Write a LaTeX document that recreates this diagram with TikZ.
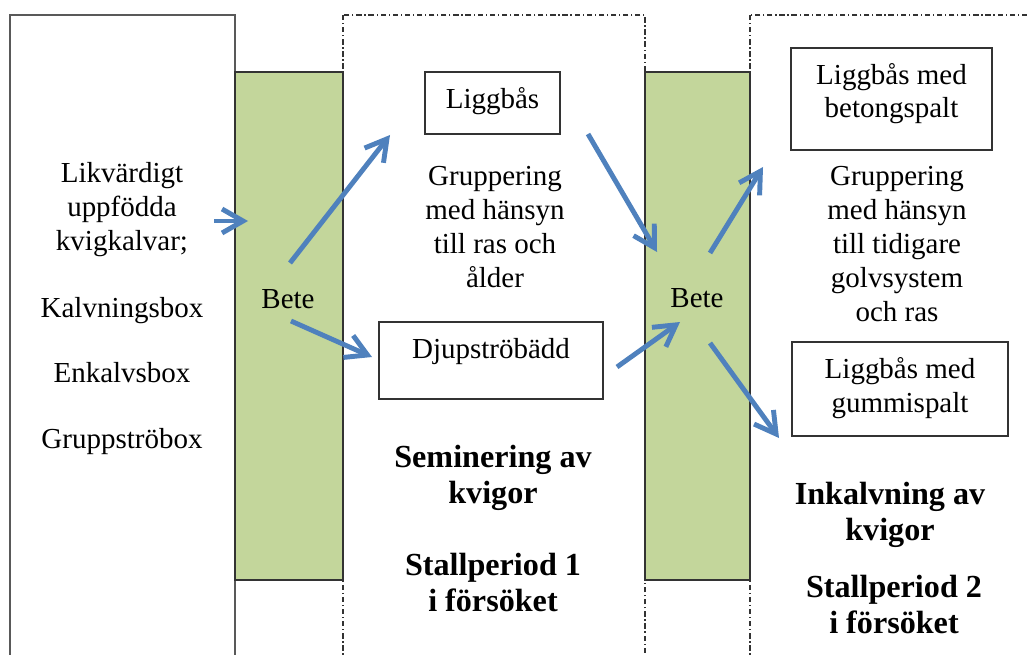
\documentclass[tikz,border=0pt]{standalone}
\usepackage{fontspec}
\setmainfont{Liberation Serif}
\usetikzlibrary{arrows.meta}

\definecolor{betegreen}{HTML}{C3D69B}
\definecolor{flowblue}{HTML}{4F81BD}

\newcommand{\txtregular}{\fontsize{16.5}{19.3}\selectfont}
\newcommand{\txtbold}{\fontsize{18.3}{20}\selectfont\bfseries}

\begin{document}
\begin{tikzpicture}[
    x=0.02cm, y=-0.02cm,
    % Styles for the periods, the pasture bars and the arrows
    framebox/.style={draw=black!65, line width=0.6pt},
    stallbox/.style={draw=black!80, line width=0.6pt,
        dash pattern=on 3pt off 1.6pt on 0.7pt off 1.6pt},
    betebar/.style={fill=betegreen, draw=black!80, line width=0.7pt},
    floorbox/.style={draw=black!80, line width=0.8pt, inner sep=0pt,
        anchor=base, align=center, font=\txtregular},
    plaintext/.style={align=center, anchor=base, inner sep=0pt, font=\txtregular},
    titletext/.style={align=center, anchor=base, inner sep=0pt, font=\txtbold},
    flow/.style={draw=flowblue, line width=2.8pt,
        -{Straight Barb[length=0.42cm, width=0.48cm]}}
]

    \useasboundingbox (0,0) rectangle (1027,655);
    \clip (0,0) rectangle (1027,655);

    % Periods

    %% Rearing, first and second housing period
    \draw[framebox] (10,15) rectangle (235,680);
    \draw[stallbox] (343,15) rectangle (645,680);
    \draw[stallbox] (750,15) rectangle (1060,680);

    %% Pasture between the periods
    \filldraw[betebar] (235,72) rectangle (343,580);
    \filldraw[betebar] (645,72) rectangle (750,580);


    % Texts (multi-line nodes sit on the baseline of their last line)

    %% Rearing
    \node[plaintext] (calves) at (122,250) {Likvärdigt\\uppfödda\\kvigkalvar;};
    \node[plaintext] (kalvbox) at (122,317) {Kalvningsbox};
    \node[plaintext] (enkbox) at (122,382) {Enkalvsbox};
    \node[plaintext] (gruppbox) at (122,448) {Gruppströbox};

    %% Pasture
    \node[plaintext] (bete1) at (288,308) {Bete};
    \node[plaintext] (bete2) at (697,307) {Bete};

    %% First housing period
    \node[floorbox, text height=0.74cm, text depth=0.5cm, minimum width=2.7cm]
        (liggbas) at (492.5,109) {Liggbås};
    \node[plaintext] (group1) at (495,287) {Gruppering\\med hänsyn\\till ras och\\ålder};
    \node[floorbox, text height=0.72cm, text depth=0.82cm, minimum width=4.48cm]
        (djup) at (491,358) {Djupströbädd};
    \node[titletext] (sem) at (493,503) {Seminering av\\kvigor};
    \node[titletext] (stall1) at (493,611) {Stallperiod 1\\i försöket};

    %% Second housing period
    \node[floorbox, text height=1.4cm, text depth=0.64cm, minimum width=4.02cm]
        (betong) at (891.5,118) {Liggbås med\\betongspalt};
    \node[plaintext] (group2) at (897,321) {Gruppering\\med hänsyn\\till tidigare\\golvsystem\\och ras};
    \node[floorbox, text height=1.4cm, text depth=0.48cm, minimum width=4.32cm]
        (gummi) at (900,412) {Liggbås med\\gummispalt};
    \node[titletext] (inkalv) at (890,540) {Inkalvning av\\kvigor};
    \node[titletext] (stall2) at (894,633) {Stallperiod 2\\i försöket};


    % Arrows

    %% Arrow ends
    \coordinate (calves-out) at (214,221);
    \coordinate (bete1-in) at (248,221);
    \coordinate (bete1-up) at (290,263);
    \coordinate (liggbas-in) at (390,135);
    \coordinate (bete1-down) at (291,321);
    \coordinate (djup-in) at (372,357);
    \coordinate (liggbas-out) at (588,134);
    \coordinate (bete2-in-up) at (657,252);
    \coordinate (djup-out) at (617,367);
    \coordinate (bete2-in-down) at (680,322);
    \coordinate (bete2-up) at (710,253);
    \coordinate (betong-in) at (763,167);
    \coordinate (bete2-down) at (710,343);
    \coordinate (gummi-in) at (779,438);

    %% Draw the flow
    \draw[flow] (calves-out) -- (bete1-in);
    \draw[flow] (bete1-up) -- (liggbas-in);
    \draw[flow] (bete1-down) -- (djup-in);
    \draw[flow] (liggbas-out) -- (bete2-in-up);
    \draw[flow] (djup-out) -- (bete2-in-down);
    \draw[flow] (bete2-up) -- (betong-in);
    \draw[flow] (bete2-down) -- (gummi-in);

\end{tikzpicture}
\end{document}
